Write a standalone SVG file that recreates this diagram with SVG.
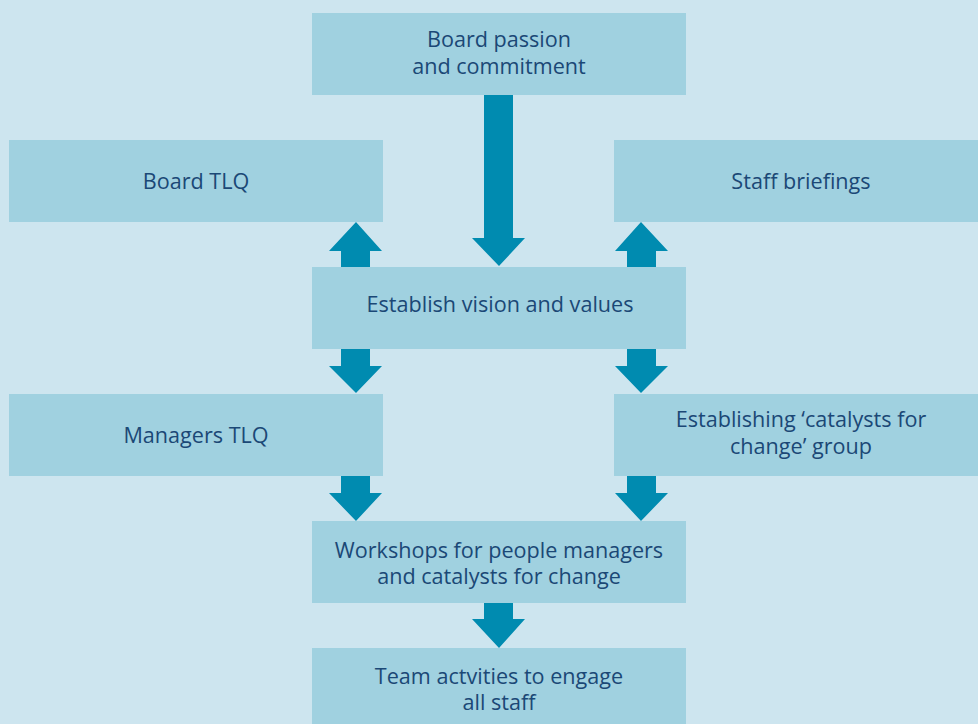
<svg xmlns="http://www.w3.org/2000/svg" width="978" height="724" viewBox="0 0 978 724">
<style>
.box{fill:#a0d1e0}
.arr{fill:#008bb0}
text{font-family:"Open Sans","Noto Sans",sans-serif;font-size:21.6px;fill:#1b4876;text-anchor:middle}
</style>
<rect x="0" y="0" width="978" height="724" fill="#cde5ef"/>
<g id="connectors">
<polygon class="arr" points="484,95 513,95 513,238 525,238 499,266 472,238 484,238"/>
<polygon class="arr" points="341,267 370,267 370,251 382,251 356,222 329,251 341,251"/>
<polygon class="arr" points="627,267 656,267 656,251 668,251 641,222 615,251 627,251"/>
<polygon class="arr" points="341,349 370,349 370,366 382,366 356,393 329,366 341,366"/>
<polygon class="arr" points="627,349 656,349 656,366 668,366 641,393 615,366 627,366"/>
<polygon class="arr" points="341,476 370,476 370,493 382,493 356,521 329,493 341,493"/>
<polygon class="arr" points="627,476 656,476 656,493 668,493 641,521 615,493 627,493"/>
<polygon class="arr" points="484,603 513,603 513,619 525,619 499,648 472,619 484,619"/>
</g>
<g id="board-passion"><rect class="box" x="312" y="13" width="374" height="82"/><text x="499" y="47">Board passion</text><text x="499" y="74">and commitment</text></g>
<g id="board-tlq"><rect class="box" x="9" y="140" width="374" height="82"/><text x="196" y="189">Board TLQ</text></g>
<g id="staff-briefings"><rect class="box" x="614" y="140" width="364" height="82"/><text x="801" y="189">Staff briefings</text></g>
<g id="vision"><rect class="box" x="312" y="267" width="374" height="82"/><text x="500" y="312">Establish vision and values</text></g>
<g id="managers-tlq"><rect class="box" x="9" y="394" width="374" height="82"/><text x="196" y="443">Managers TLQ</text></g>
<g id="catalysts"><rect class="box" x="614" y="394" width="364" height="82"/><text x="801" y="427">Establishing ‘catalysts for</text><text x="801" y="454">change’ group</text></g>
<g id="workshops"><rect class="box" x="312" y="521" width="374" height="82"/><text x="499" y="558">Workshops for people managers</text><text x="499" y="584">and catalysts for change</text></g>
<g id="team"><rect class="box" x="312" y="648" width="374" height="82"/><text x="499" y="684">Team actvities to engage</text><text x="499" y="710">all staff</text></g>
</svg>
